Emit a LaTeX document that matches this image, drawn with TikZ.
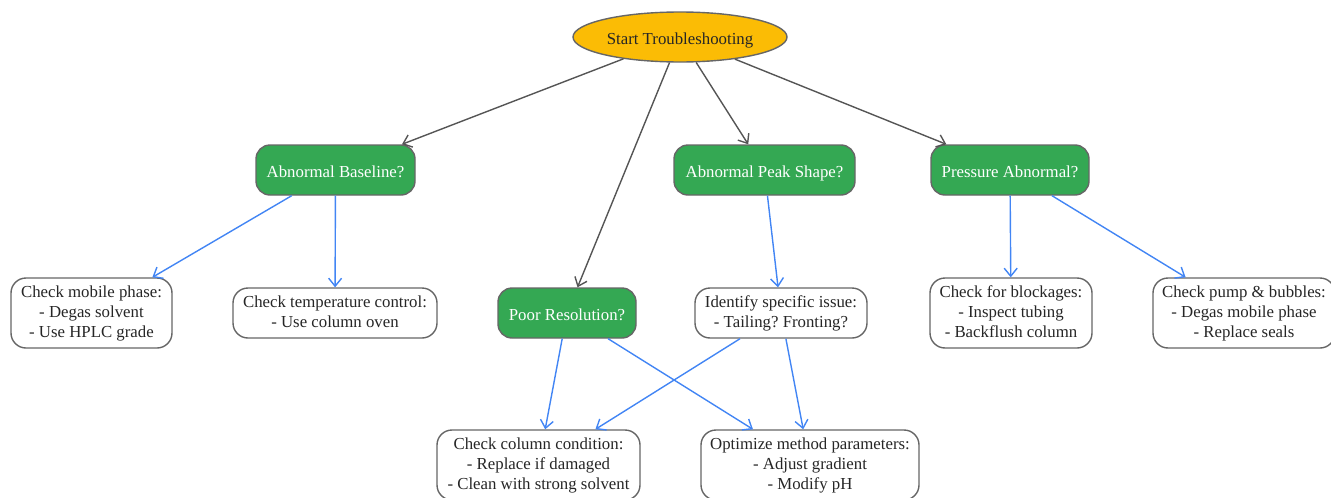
\documentclass[tikz,border=0pt]{standalone}
\usepackage{fontspec}
\setmainfont{Liberation Serif}
\usetikzlibrary{shapes.geometric,arrows.meta}
\frenchspacing
\definecolor{startfill}{HTML}{FBBC05}
\definecolor{qgreen}{HTML}{34A853}
\definecolor{bordergray}{HTML}{666666}
\definecolor{edgegray}{HTML}{555555}
\definecolor{edgeblue}{HTML}{4285F4}
\tikzset{
  basefont/.style={font=\fontsize{16.8}{20}\selectfont\frenchspacing, align=center, inner sep=0pt,
    execute at begin node={\rule{0pt}{18pt}}, execute at end node={\rule[-3pt]{0pt}{3pt}}},
  startnode/.style={basefont, ellipse, draw=bordergray, line width=1.4pt, fill=startfill, text=black!85},
  question/.style={basefont, rectangle, rounded corners=14pt, draw=bordergray, line width=1.4pt, fill=qgreen, text=white, minimum height=50pt},
  action/.style={basefont, rectangle, rounded corners=15pt, draw=bordergray, line width=1.4pt, fill=white, text=black!85},
  grayedge/.style={draw=edgegray, line width=1.4pt, -{Straight Barb[length=8pt,width=13pt,line width=1.4pt]}},
  blueedge/.style={draw=edgeblue, line width=1.4pt, -{Straight Barb[length=8pt,width=13pt,line width=1.4pt]}},
}
\begin{document}
\begin{tikzpicture}[x=1pt,y=-1pt]
\useasboundingbox (0,0) rectangle (1331,498);
\node[startnode, minimum width=214pt, minimum height=50pt] (start) at (680,37) {Start Troubleshooting};
\node[question, minimum width=159pt] (base) at (335.5,170) {Abnormal Baseline?};
\node[question, minimum width=181pt] (peak) at (764.5,170) {Abnormal Peak Shape?};
\node[question, minimum width=158pt] (press) at (1010,170) {Pressure Abnormal?};
\node[question, minimum width=138pt] (poor) at (567,313) {Poor Resolution?};
\node[action, minimum width=161pt, minimum height=70pt] (mobile) at (91.5,313) {Check mobile phase:\\- Degas solvent\\- Use HPLC grade};
\node[action, minimum width=204pt, minimum height=50pt] (temp) at (335,313) {Check temperature control:\\- Use column oven};
\node[action, minimum width=172pt, minimum height=50pt] (ident) at (781,313) {Identify specific issue:\\- Tailing? Fronting?};
\node[action, minimum width=162pt, minimum height=70pt] (block) at (1011,313) {Check for blockages:\\- Inspect tubing\\- Backflush column};
\node[action, minimum width=182pt, minimum height=70pt] (pump) at (1244,313) {Check pump \& bubbles:\\- Degas mobile phase\\- Replace seals};
\node[action, minimum width=203pt, minimum height=70pt] (column) at (538.5,465) {Check column condition:\\- Replace if damaged\\- Clean with strong solvent};
\node[action, minimum width=218pt, minimum height=70pt] (optim) at (810,465) {Optimize method parameters:\\- Adjust gradient\\- Modify pH};
\draw[grayedge] (start) -- (base);
\draw[grayedge] (start) -- (poor);
\draw[grayedge] (start) -- (peak);
\draw[grayedge] (start) -- (press);
\draw[blueedge] (base) -- (mobile);
\draw[blueedge] (base) -- (temp);
\draw[blueedge] (peak) -- (ident);
\draw[blueedge] (press) -- (block);
\draw[blueedge] (press) -- (pump);
\draw[blueedge] (poor) -- (column);
\draw[blueedge] (poor) -- (optim);
\draw[blueedge] (ident) -- (column);
\draw[blueedge] (ident) -- (optim);
\end{tikzpicture}
\end{document}
